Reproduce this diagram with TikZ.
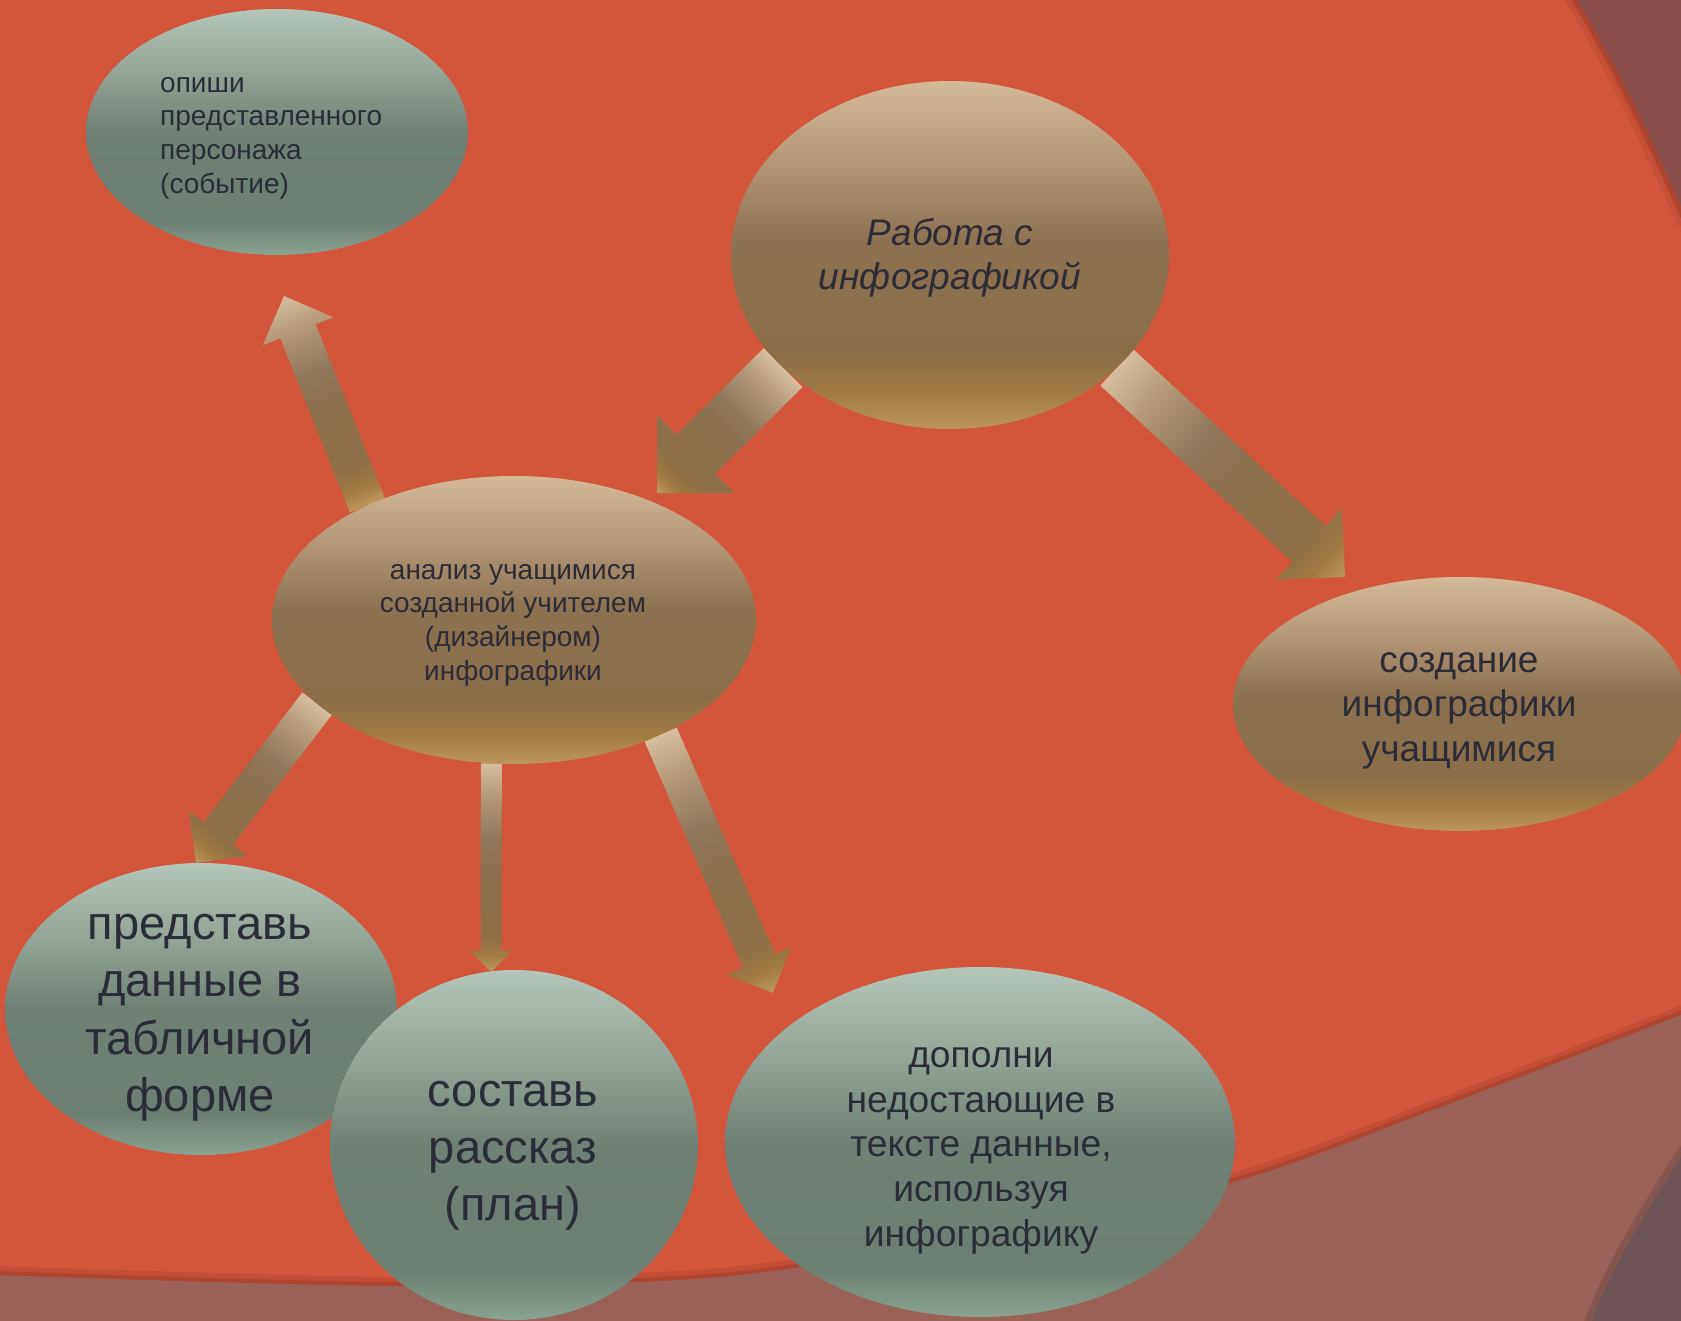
\documentclass[tikz,border=0pt]{standalone}
\usepackage{fontspec}
\setmainfont{Liberation Sans}
\usetikzlibrary{shapes.geometric,calc}

\definecolor{bgred}{HTML}{D3553C}
\definecolor{shadowred}{HTML}{B0452F}
\definecolor{mauve}{HTML}{8B4F4B}
\definecolor{band}{HTML}{9A6156}
\definecolor{darkc}{HTML}{6E5356}
\definecolor{bandshadow}{HTML}{855650}
\definecolor{txt}{HTML}{2A2C38}

\definecolor{g1}{HTML}{B4C5B9}
\definecolor{g2}{HTML}{95A698}
\definecolor{g3}{HTML}{708075}
\definecolor{g4}{HTML}{6D7E72}
\definecolor{g5}{HTML}{8AA392}

\definecolor{br1}{HTML}{D4B998}
\definecolor{br2}{HTML}{B29474}
\definecolor{br3}{HTML}{8D7150}
\definecolor{br3b}{HTML}{8B6D48}
\definecolor{br4}{HTML}{A37C44}
\definecolor{br5}{HTML}{BC965C}

\definecolor{a1}{HTML}{D8BE9E}
\definecolor{a2}{HTML}{B49878}
\definecolor{a3}{HTML}{92775A}
\definecolor{a4}{HTML}{8C6F4C}
\definecolor{a5}{HTML}{8E6E46}
\definecolor{a6}{HTML}{A27B43}
\definecolor{a7}{HTML}{BE985D}

\pgfdeclareverticalshading{greysh}{100bp}{color(0bp)=(g5); color(25bp)=(g5); color(32bp)=(g4); color(50bp)=(g3); color(62.5bp)=(g2); color(75bp)=(g1); color(100bp)=(g1)}
\pgfdeclareverticalshading{brownsh}{100bp}{color(0bp)=(br5); color(25bp)=(br5); color(30bp)=(br4); color(36bp)=(br3b); color(52bp)=(br3); color(62.5bp)=(br2); color(75bp)=(br1); color(100bp)=(br1)}
\pgfdeclareverticalshading{arrsh}{100bp}{color(0bp)=(a1); color(25bp)=(a1); color(33bp)=(a2); color(43bp)=(a3); color(52bp)=(a4); color(66bp)=(a5); color(71bp)=(a6); color(75bp)=(a7); color(100bp)=(a7)}

\pgfdeclarelayer{bg}
\pgfsetlayers{bg,main}

% block arrow: #1 tail, #2 tip, #3 shaft width, #4 shading angle (-90: light tail, 90: light tip)
\newcommand\blockarr[4]{%
  \path let \p1=(#1), \p2=(#2) in
    \pgfextra{%
      \pgfmathsetmacro\tmpang{atan2(\y2-\y1,\x2-\x1)}%
      \pgfmathsetmacro\tmplen{veclen(\x2-\x1,\y2-\y1)}%
      \global\let\barang\tmpang
      \global\let\barlen\tmplen};
  \pgfmathsetmacro\barhw{#3/2}%
  \pgfmathsetmacro\barhl{\barlen-#3}%
  \begin{scope}[transform canvas={shift={(#1)},rotate=\barang}]
    \path[shading=arrsh, shading angle=#4]
      (0pt,\barhw pt) -- (\barhl pt,\barhw pt) -- (\barhl pt,#3pt) -- (\barlen pt,0pt)
      -- (\barhl pt,-#3pt) -- (\barhl pt,-\barhw pt) -- (0pt,-\barhw pt) -- cycle;
  \end{scope}}

\tikzset{
  ell/.style={ellipse, inner sep=0pt, outer sep=0pt},
  greyell/.style={ell, shading=greysh},
  brownell/.style={ell, shading=brownsh},
  lbl/.style={text=txt, inner sep=0pt, align=center},
}

\begin{document}
\begin{tikzpicture}[x=1pt,y=-1pt]
\useasboundingbox (0,0) rectangle (1681,1321);

\begin{pgfonlayer}{bg}
  \fill[bgred] (-5,-5) rectangle (1686,1326);
  % top-right corner
  \draw[line width=22pt, shadowred, opacity=0.35] (1574,-5) .. controls (1620,70) and (1656,150) .. (1688,222);
  \draw[line width=10pt, shadowred] (1574,-5) .. controls (1620,70) and (1656,150) .. (1688,222);
  \fill[mauve] (1574,-5) .. controls (1620,70) and (1656,150) .. (1688,222) -- (1688,-5) -- cycle;
  % bottom band
  \draw[line width=18pt, shadowred, opacity=0.45] plot[smooth] coordinates {(-5,1275) (400,1286) (720,1277) (975,1236) (1230,1183) (1433,1110) (1686,1013)};
  \draw[line width=8pt, shadowred] plot[smooth] coordinates {(-5,1275) (400,1286) (720,1277) (975,1236) (1230,1183) (1433,1110) (1686,1013)};
  \fill[band] plot[smooth] coordinates {(-5,1275) (400,1286) (720,1277) (975,1236) (1230,1183) (1433,1110) (1686,1013)} -- (1686,1326) -- (-5,1326) -- cycle;
  % bottom-right corner
  \draw[line width=14pt, bandshadow] (1590,1326) .. controls (1610,1270) and (1650,1205) .. (1686,1150);
  \fill[darkc] (1590,1326) .. controls (1610,1270) and (1650,1205) .. (1686,1150) -- (1686,1326) -- cycle;
\end{pgfonlayer}

% ellipses
\node[greyell, minimum width=382, minimum height=246] (opi) at (277,132) {};
\node[brownell, minimum width=438, minimum height=348] (rab) at (950,255) {};
\node[brownell, minimum width=484, minimum height=288] (anal) at (514,620) {};
\node[brownell, minimum width=454, minimum height=254] (sozd) at (1460,704) {};
\node[greyell, minimum width=392, minimum height=292] (pred) at (201,1009) {};
\node[greyell, minimum width=368, minimum height=350] (sost) at (514,1145) {};
\node[greyell, minimum width=510, minimum height=350] (dop) at (980,1142) {};

% arrow tips
\coordinate (tipA) at (657,493);
\coordinate (tipB) at (1345,577);
\coordinate (tipC) at (284,296);
\coordinate (tipD) at (196,863);
\coordinate (tipE) at (491,972);
\coordinate (tipF) at (773,993);

\begin{pgfonlayer}{bg}
  \blockarr{rab.214}{tipA}{55}{-90}
  \blockarr{rab.326}{tipB}{49}{-90}
  \blockarr{anal.142}{tipC}{38}{90}
  \blockarr{anal.203}{tipD}{37}{-90}
  \blockarr{anal.261}{tipE}{21}{-90}
  \blockarr{anal.322}{tipF}{35}{-90}
\end{pgfonlayer}

% texts
\node[lbl, anchor=west, align=left, font=\fontsize{28}{33.7}\selectfont] (topi) at (160,136)
  {\strut опиши\\представленного\\персонажа\\(событие)\strut};
\node[lbl, font=\fontsize{37}{44}\selectfont\itshape] (trab) at (950,259)
  {\strut Работа с\\инфографикой\strut};
\node[lbl, font=\fontsize{28}{33.6}\selectfont] (tanal) at (513,623)
  {\strut анализ учащимися\\созданной учителем\\(дизайнером)\\инфографики\strut};
\node[lbl, font=\fontsize{37}{44.7}\selectfont] (tsozd) at (1459,708)
  {\strut создание\\инфографики\\учащимися\strut};
\node[lbl, font=\fontsize{47}{57.5}\selectfont] (tpred) at (200,1014)
  {\strut представь\\данные в\\табличной\\форме\strut};
\node[lbl, font=\fontsize{47}{57}\selectfont] (tsost) at (513,1152)
  {\strut составь\\рассказ\\(план)\strut};
\node[lbl, font=\fontsize{37.2}{44.6}\selectfont] (tdop) at (981,1148)
  {\strut дополни\\недостающие в\\тексте данные,\\используя\\инфографику\strut};
\end{tikzpicture}
\end{document}
